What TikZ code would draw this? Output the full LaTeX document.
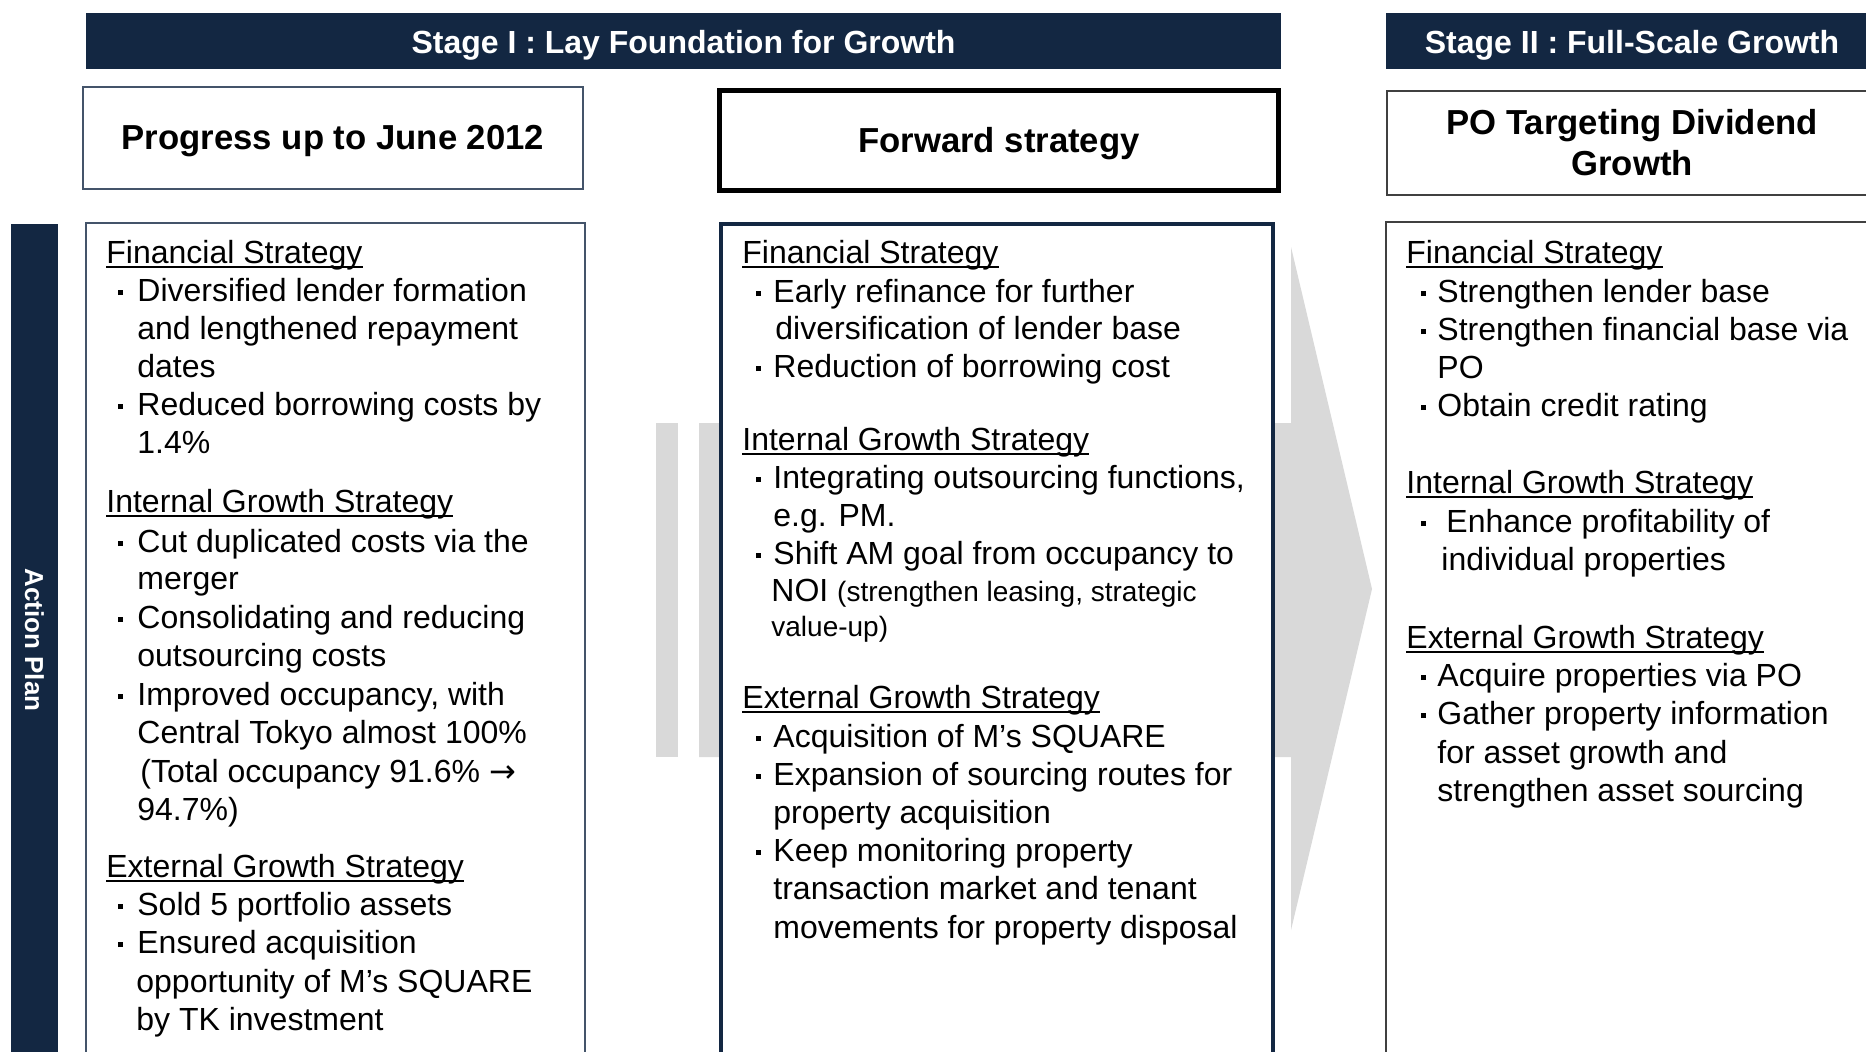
\documentclass[tikz,border=0pt]{standalone}
\usepackage{fontspec}
\setmainfont{Liberation Sans}
\newfontfamily\dvs{DejaVu Sans}
\definecolor{navy}{RGB}{19,39,66}
\definecolor{arrowgray}{RGB}{217,217,217}
\definecolor{boxline}{RGB}{68,84,106}
\definecolor{boxgray}{RGB}{64,64,64}
\newcommand\ulh[1]{\sbox0{#1}\rlap{\rule[-2.6pt]{\wd0}{0.9pt}}\usebox0}
\newcommand\blt[1]{\makebox[#1][l]{\rule[2.9pt]{2.4pt}{2.4pt}}}
\tikzset{
  txt/.style={anchor=base west, inner sep=0pt, font=\fontsize{16}{19.2}\selectfont, text=black},
  sm/.style={font=\fontsize{14}{17}\selectfont},
  hdtxt/.style={anchor=base, inner sep=0pt, font=\bfseries\fontsize{17.35}{20.5}\selectfont, text=black},
  stagetxt/.style={anchor=base, inner sep=0pt, text=white, font=\bfseries\fontsize{16}{19}\selectfont},
  thinbox/.style={draw=boxline, line width=0.75pt, fill=white},
  graybox/.style={draw=boxgray, line width=0.75pt, fill=white},
}
\begin{document}
\begin{tikzpicture}[x=0.5pt,y=-0.5pt]
\useasboundingbox (0,0) rectangle (1866,1051);
\clip (0,0) rectangle (1866,1051);
\fill[white] (0,0) rectangle (1866,1051);

% stage headers
\fill[navy] (86,13) rectangle (1281,69);
\fill[navy] (1386,13) rectangle (1880,69);
\node[stagetxt] (s1) at (683.5,53) {Stage I : Lay Foundation for Growth};
\node[stagetxt] (s2) at (1632,53) {Stage II : Full-Scale Growth};

% column headers
\draw[thinbox] (83,87) rectangle (583,189);
\draw[black, line width=2.5pt, fill=white] (719.5,90.5) rectangle (1278.5,190.5);
\draw[graybox] (1387,91) rectangle (1880,195);
\node[hdtxt] (h1) at (333,149) {Progress up to June 2012};
\node[hdtxt] (h2) at (999,152) {Forward strategy};
\node[hdtxt] (h3a) at (1632,134) {PO Targeting Dividend};
\node[hdtxt] (h3b) at (1632,175) {Growth};

% action plan bar
\fill[navy] (11,224) rectangle (58,1060);
\node[inner sep=0pt, rotate=-90, text=white, font=\bfseries\fontsize{13}{15}\selectfont] (ap) at (34.5,640) {Action Plan};

% big gray arrow
\fill[arrowgray] (656,423) rectangle (678,757);
\fill[arrowgray] (699,423) -- (1291,423) -- (1291,247) -- (1372,589) -- (1291,930) -- (1291,757) -- (699,757) -- cycle;

% content boxes
\draw[thinbox] (86,223) rectangle (585,1060);
\draw[navy, line width=1.75pt, fill=white] (721,224) rectangle (1273,1060);
\draw[graybox] (1386,222) rectangle (1880,1060);

% left column
\node[txt] (a1) at (106,263) {\ulh{Financial Strategy}};
\node[txt] (a2) at (118,301) {\blt{9.5pt}Diversified lender formation};
\node[txt] (a3) at (137,339) {and lengthened repayment};
\node[txt] (a4) at (137,377) {dates};
\node[txt] (a5) at (118,415) {\blt{9.5pt}Reduced borrowing costs by};
\node[txt] (a6) at (137,453) {1.4\%};
\node[txt] (a7) at (106,512) {\ulh{Internal Growth Strategy}};
\node[txt] (a8) at (118,552) {\blt{9.5pt}Cut duplicated costs via the};
\node[txt] (a9) at (137,589) {merger};
\node[txt] (a10) at (118,628) {\blt{9.5pt}Consolidating and reducing};
\node[txt] (a11) at (137,666) {outsourcing costs};
\node[txt] (a12) at (118,705) {\blt{9.5pt}Improved occupancy, with};
\node[txt] (a13) at (137,743) {Central Tokyo almost 100\%};
\node[txt] (a14) at (140,782) {(Total occupancy 91.6\% {\dvs →}};
\node[txt] (a15) at (137,820) {94.7\%)};
\node[txt] (a16) at (106,877) {\ulh{External Growth Strategy}};
\node[txt] (a17) at (118,915) {\blt{9.5pt}Sold 5 portfolio assets};
\node[txt] (a18) at (118,953) {\blt{9.5pt}Ensured acquisition};
\node[txt] (a19) at (136,992) {opportunity of M’s SQUARE};
\node[txt] (a20) at (136,1030) {by TK investment};

% middle column
\node[txt] (b1) at (742,263) {\ulh{Financial Strategy}};
\node[txt] (b2) at (756,302) {\blt{8.5pt}Early refinance for further};
\node[txt] (b3) at (775,339) {diversification of lender base};
\node[txt] (b4) at (756,377) {\blt{8.5pt}Reduction of borrowing cost};
\node[txt] (b5) at (742,450) {\ulh{Internal Growth Strategy}};
\node[txt] (b6) at (756,488) {\blt{8.5pt}Integrating outsourcing functions,};
\node[txt] (b7) at (773,526) {e.g. PM.};
\node[txt] (b8) at (756,564) {\blt{8.5pt}Shift AM goal from occupancy to};
\node[txt] (b9) at (771,601) {NOI {\fontsize{14}{17}\selectfont (strengthen leasing, strategic}};
\node[txt, sm] (b10) at (771,636) {value-up)};
\node[txt] (b11) at (742,708) {\ulh{External Growth Strategy}};
\node[txt] (b12) at (756,747) {\blt{8.5pt}Acquisition of M’s SQUARE};
\node[txt] (b13) at (756,785) {\blt{8.5pt}Expansion of sourcing routes for};
\node[txt] (b14) at (773,823) {property acquisition};
\node[txt] (b15) at (756,861) {\blt{8.5pt}Keep monitoring property};
\node[txt] (b16) at (773,899) {transaction market and tenant};
\node[txt] (b17) at (773,938) {movements for property disposal};

% right column
\node[txt] (c1) at (1406,263) {\ulh{Financial Strategy}};
\node[txt] (c2) at (1421,302) {\blt{8pt}Strengthen lender base};
\node[txt] (c3) at (1421,340) {\blt{8pt}Strengthen financial base via};
\node[txt] (c4) at (1437,378) {PO};
\node[txt] (c5) at (1421,416) {\blt{8pt}Obtain credit rating};
\node[txt] (c6) at (1406,493) {\ulh{Internal Growth Strategy}};
\node[txt] (c7) at (1421,532) {\blt{12.5pt}Enhance profitability of};
\node[txt] (c8) at (1441,570) {individual properties};
\node[txt] (c9) at (1406,648) {\ulh{External Growth Strategy}};
\node[txt] (c10) at (1421,686) {\blt{8pt}Acquire properties via PO};
\node[txt] (c11) at (1421,724) {\blt{8pt}Gather property information};
\node[txt] (c12) at (1437,763) {for asset growth and};
\node[txt] (c13) at (1437,801) {strengthen asset sourcing};
\end{tikzpicture}
\end{document}
